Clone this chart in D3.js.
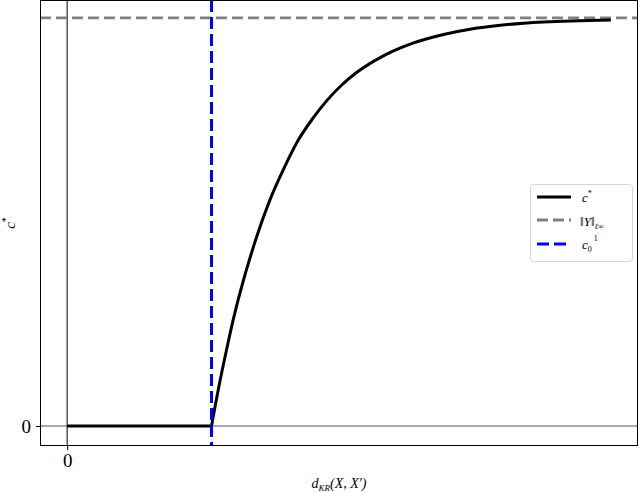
<!DOCTYPE html>
<html><head><meta charset="utf-8">
<script src="https://cdn.jsdelivr.net/npm/d3@7"></script>
<style>body{margin:0;background:#fff}svg{display:block}</style>
</head><body>
<script>
// Data (x in units where c0^1 = 1, y in units where ||Y||_inf = 1)
const flatX = [0, 1];
const flatY = [0, 0];
const curveX = [1, 1.05, 1.1, 1.15, 1.2, 1.3, 1.4, 1.5, 1.6, 1.7, 1.8, 1.9, 2.0, 2.2, 2.4, 2.6, 2.8, 3.0, 3.3, 3.766];
const curveY = [0, 0.095, 0.18, 0.26, 0.33, 0.45, 0.55, 0.63, 0.70, 0.753, 0.798, 0.835, 0.865, 0.909, 0.939, 0.959, 0.973, 0.982, 0.990, 0.995];
const yNorm = 1;      // ||Y||_inf
const c0 = 1;         // c0^1
const xTicks = [0];
const yTicks = [0];

const W = 640, H = 492;
const L = 40, R = 638, T = 0, B = 446;
const svg = d3.select("body").append("svg").attr("width", W).attr("height", H);
const x = d3.scaleLinear().domain([-0.188, 3.954]).range([L, R]);
const y = d3.scaleLinear().domain([-0.049, 1.044]).range([B, T]);
const font = "'Liberation Serif', 'DejaVu Serif', serif";

// axvline / axhline at 0
svg.append("line").attr("x1", x(0)).attr("x2", x(0)).attr("y1", T).attr("y2", B)
  .attr("stroke", "#000").attr("stroke-width", 1);
svg.append("line").attr("x1", L).attr("x2", R).attr("y1", y(0)).attr("y2", y(0))
  .attr("stroke", "#555").attr("stroke-width", 1.2);

// ||Y|| dashed
svg.append("line").attr("x1", L).attr("x2", R).attr("y1", y(yNorm)).attr("y2", y(yNorm))
  .attr("stroke", "#808080").attr("stroke-width", 2.8).attr("stroke-dasharray", "11,5");

// c* curve
const line = d3.line().x(d => x(d[0])).y(d => y(d[1]));
svg.append("path").datum(flatX.map((v, i) => [v, flatY[i]]))
  .attr("d", line).attr("fill", "none").attr("stroke", "#000").attr("stroke-width", 3);
svg.append("path").datum(curveX.map((v, i) => [v, curveY[i]]))
  .attr("d", d3.line().x(d => x(d[0])).y(d => y(d[1])).curve(d3.curveMonotoneX))
  .attr("fill", "none").attr("stroke", "#000").attr("stroke-width", 3);

// c0 blue dashed
svg.append("line").attr("x1", x(c0)).attr("x2", x(c0)).attr("y1", T).attr("y2", B)
  .attr("stroke", "#0000ff").attr("stroke-width", 3).attr("stroke-dasharray", "12,5");

// frame
svg.append("rect").attr("x", L + 0.5).attr("y", T + 0.5).attr("width", R - L - 1).attr("height", B - T - 1)
  .attr("fill", "none").attr("stroke", "#000").attr("stroke-width", 1);

// axes ticks
const xAxis = svg.append("g").attr("transform", `translate(0,${B})`)
  .call(d3.axisBottom(x).tickValues(xTicks).tickSize(4).tickPadding(4).tickFormat(d3.format("d")));
const yAxis = svg.append("g").attr("transform", `translate(${L},0)`)
  .call(d3.axisLeft(y).tickValues(yTicks).tickSize(4).tickPadding(5).tickFormat(d3.format("d")));
[xAxis, yAxis].forEach(g => {
  g.select(".domain").remove();
  g.selectAll("text").attr("font-family", font).attr("font-size", 19).attr("fill", "#000");
});

// x label
const xl = svg.append("text").attr("x", 339).attr("y", 488).attr("text-anchor", "middle")
  .attr("font-family", font).attr("font-size", 14).attr("font-style", "italic");
xl.append("tspan").text("d");
xl.append("tspan").attr("font-size", 9).attr("dy", 3).text("KR");
xl.append("tspan").attr("dy", -3).text("(X, X′)");

// y label
const yl = svg.append("text").attr("transform", "translate(15,223) rotate(-90)").attr("text-anchor", "middle")
  .attr("font-family", font).attr("font-size", 15).attr("font-style", "italic");
yl.append("tspan").text("c");
yl.append("tspan").attr("font-size", 10).attr("dy", -6).attr("font-style", "normal").text("*");

// legend
const lg = svg.append("g");
lg.append("rect").attr("x", 530.5).attr("y", 184.5).attr("width", 102).attr("height", 77).attr("rx", 3)
  .attr("fill", "#fff").attr("fill-opacity", 0.8).attr("stroke", "#d6d6d6");
const rows = [
  {y: 197, color: "#000", dash: null, w: 3},
  {y: 220, color: "#808080", dash: "11,5", w: 2.8},
  {y: 244, color: "#0000ff", dash: "12,5", w: 3}
];
rows.forEach(r => {
  lg.append("line").attr("x1", 537).attr("x2", 571).attr("y1", r.y).attr("y2", r.y)
    .attr("stroke", r.color).attr("stroke-width", r.w).attr("stroke-dasharray", r.dash);
});
const t1 = lg.append("text").attr("x", 582).attr("y", 202).attr("font-family", font).attr("font-size", 13).attr("font-style", "italic");
t1.append("tspan").text("c");
t1.append("tspan").attr("font-size", 8).attr("dy", -6).attr("font-style", "normal").text("*");
const t2 = lg.append("text").attr("x", 580).attr("y", 226).attr("font-family", font).attr("font-size", 13);
t2.append("tspan").text("‖");
t2.append("tspan").attr("font-style", "italic").text("Y");
t2.append("tspan").text("‖");
t2.append("tspan").attr("font-size", 8).attr("dy", 3).attr("font-style", "italic").text("ℓ∞");
const t3 = lg.append("text").attr("x", 582).attr("y", 249).attr("font-family", font).attr("font-size", 13).attr("font-style", "italic");
t3.append("tspan").text("c");
t3.append("tspan").attr("font-size", 8).attr("dy", 3).attr("font-style", "normal").text("0");
t3.append("tspan").attr("font-size", 8).attr("dy", -11).attr("dx", 2).attr("font-style", "normal").text("1");
</script>
</body></html>
